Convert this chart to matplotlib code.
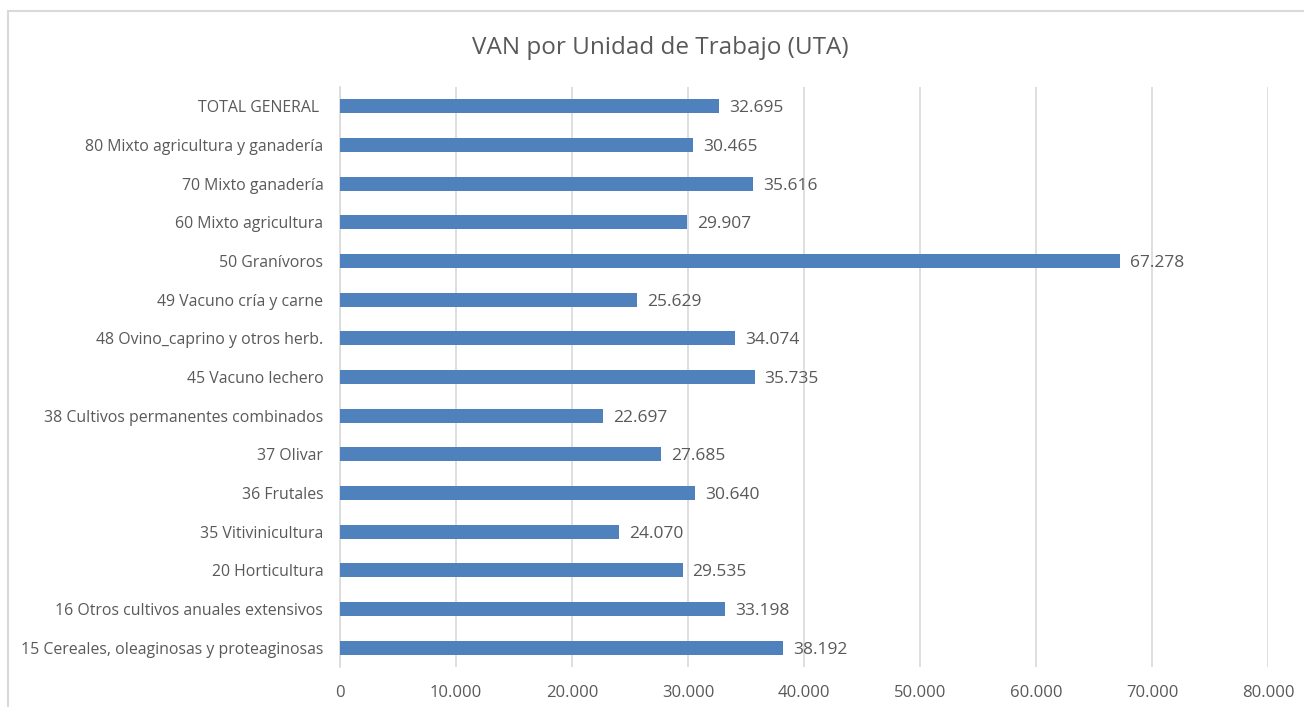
import matplotlib.pyplot as plt
from matplotlib.patches import Rectangle

# data, bottom to top as drawn
categories = [
    "15 Cereales, oleaginosas y proteaginosas",
    "16 Otros cultivos anuales extensivos",
    "20 Horticultura",
    "35 Vitivinicultura",
    "36 Frutales",
    "37 Olivar",
    "38 Cultivos permanentes combinados",
    "45 Vacuno lechero",
    "48 Ovino_caprino y otros herb.",
    "49 Vacuno cría y carne",
    "50 Granívoros",
    "60 Mixto agricultura",
    "70 Mixto ganadería",
    "80 Mixto agricultura y ganadería",
    "TOTAL GENERAL ",
]
values = [38192, 33198, 29535, 24070, 30640, 27685, 22697, 35735,
          34074, 25629, 67278, 29907, 35616, 30465, 32695]
xticks = [0, 10000, 20000, 30000, 40000, 50000, 60000, 70000, 80000]

plt.rcParams['font.family'] = ['Open Sans', 'DejaVu Sans']
txt = '#595959'

fig = plt.figure(figsize=(13.04, 7.07), dpi=100)
ax = fig.add_axes([340 / 1304, 1 - 667 / 707, 928 / 1304, 580 / 707])

# chart border like the Excel chart area
fig.patches.append(Rectangle((8 / 1304, -0.1), 1.1, 1 - 11 / 707 + 0.1,
                             transform=fig.transFigure, fill=False,
                             edgecolor='#d9d9d9', linewidth=1.5))

y = range(len(categories))
ax.barh(y, values, height=0.36, color='#4f81bd', zorder=3)
for i, v in enumerate(values):
    ax.text(v + 850, i, f"{v:,}".replace(",", "."), va='center_baseline',
            ha='left', fontsize=12.5, color=txt)

ax.set_xlim(0, 80000)
ax.set_ylim(-0.5, len(categories) - 0.5)
ax.set_yticks(list(y))
ax.set_yticklabels(categories, fontsize=11.4, color=txt)
ax.set_xticks(xticks)
ax.set_xticklabels([f"{t:,}".replace(",", ".") for t in xticks],
                   fontsize=12, color=txt)
ax.tick_params(length=0, pad=12)
ax.tick_params(axis='x', pad=13)
ax.grid(axis='x', color='#d9d9d9', linewidth=1.2, zorder=0)
for s in ['top', 'right', 'bottom']:
    ax.spines[s].set_visible(False)
ax.spines['left'].set_color('#d9d9d9')
ax.spines['left'].set_linewidth(1.2)

fig.text(660 / 1304, 1 - 48 / 707, "VAN por Unidad de Trabajo (UTA)",
         ha='center', va='center', fontsize=17.5, color=txt)

fig.savefig('out.png', dpi=100)
